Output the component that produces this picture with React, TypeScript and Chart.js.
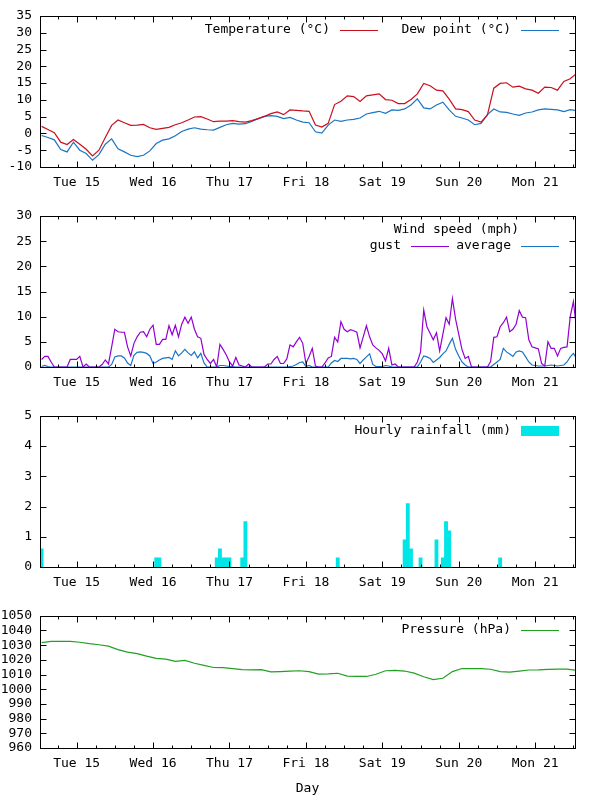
import React, { useEffect, useRef } from 'react';
import { Chart, registerables } from 'chart.js';

Chart.register(...registerables);

// ---------- data ----------
// time axis: hours since Tue 15 00:00
const X_MIN = -11.5;
const X_MAX = 156.5;
const dayTickHours = [0, 24, 48, 72, 96, 120, 144];
const dayLabels = ['Tue 15', 'Wed 16', 'Thu 17', 'Fri 18', 'Sat 19', 'Sun 20', 'Mon 21'];

// temperature / dew point: every 2 h starting at hour -11
const TEMP_START = -11;
const TEMP_STEP = 2;
const temperature = [
  2.1, 1.2, 0.2, -2.6, -3.3, -1.8, -3.2, -4.7, -6.7, -5.0, -1.2, 2.4,
  4.0, 3.2, 2.4, 2.5, 2.7, 1.7, 1.2, 1.5, 1.8, 2.6, 3.2, 4.0,
  4.9, 5.0, 4.3, 3.5, 3.7, 3.7, 3.8, 3.5, 3.4, 3.8, 4.4, 5.1,
  5.9, 6.4, 5.6, 7.0, 6.9, 6.7, 6.6, 2.5, 1.9, 3.0, 8.6, 9.6,
  11.2, 11.0, 9.5, 11.2, 11.5, 11.8, 10.1, 9.9, 8.9, 8.9, 10.1, 11.8,
  14.9, 14.2, 12.9, 12.7, 10.2, 7.3, 7.1, 6.5, 4.0, 3.4, 5.5, 13.5,
  14.9, 15.1, 13.8, 14.1, 13.3, 12.9, 12.0, 13.8, 13.7, 12.9, 15.5, 16.3,
  17.9,
];
const dewPoint = [
  -0.6, -1.2, -1.9, -4.8, -5.5, -2.6, -5.0, -6.0, -8.0, -6.3, -3.2, -1.6,
  -4.6, -5.5, -6.5, -6.9, -6.5, -5.2, -3.0, -2.0, -1.6, -0.7, 0.6, 1.3,
  1.7, 1.3, 1.1, 1.0, 1.8, 2.6, 3.0, 2.8, 2.9, 3.6, 4.4, 5.1,
  5.3, 5.1, 4.4, 4.8, 4.0, 3.4, 3.2, 0.5, 0.1, 2.5, 4.0, 3.6,
  4.0, 4.2, 4.6, 5.8, 6.2, 6.6, 6.0, 7.0, 6.9, 7.3, 8.5, 10.3,
  7.6, 7.3, 8.5, 9.3, 7.0, 5.1, 4.6, 4.0, 2.6, 3.0, 5.6, 7.3,
  6.4, 6.3, 5.8, 5.4, 6.1, 6.4, 7.0, 7.3, 7.2, 7.0, 6.5, 7.1,
  6.8,
];

// wind: hourly starting at hour -11
const WIND_START = -11;
const WIND_STEP = 1;
const windGust = [
  1.5, 2.1, 2.1, 1.0, 0, 0, 0, 0, 0, 1.5, 1.5, 1.5,
  2.1, 0, 0.6, 0, 0, 0, 0, 0.5, 1.4, 0.6, 4.0, 7.5,
  7.0, 6.9, 6.9, 4.0, 2.2, 4.7, 6.0, 6.9, 7.0, 6.0, 7.5, 8.3,
  4.5, 4.5, 5.5, 5.5, 8.2, 6.4, 8.3, 6.0, 8.5, 9.9, 8.7, 9.9,
  7.5, 6.0, 5.7, 2.5, 1.5, 0.7, 1.5, 0, 4.5, 3.5, 2.4, 1.0,
  0.2, 1.9, 0.4, 0.2, 0, 0.6, 0, 0, 0, 0, 0, 0.6,
  0.6, 1.5, 2.1, 0.7, 0.7, 1.6, 4.4, 4.0, 5.0, 5.9, 4.7, 0.7,
  2.1, 3.7, 0.2, 0, 0, 0.8, 1.8, 2.1, 5.9, 5.0, 9.0, 7.5,
  7.0, 7.4, 7.2, 6.9, 3.8, 6.0, 8.2, 6.0, 4.4, 3.8, 3.3, 2.6,
  1.2, 3.7, 0.4, 0.6, 0, 0, 0, 0, 0, 0, 1.0, 3.0,
  11.3, 8.0, 6.7, 5.4, 6.8, 3.2, 6.5, 9.8, 8.5, 13.6, 9.5, 6.5,
  3.5, 1.7, 2.1, 0, 0, 0, 0, 0, 0, 1.1, 5.9, 6.0,
  8.0, 8.8, 9.9, 7.0, 7.5, 8.5, 11.2, 9.9, 9.8, 5.4, 4.0, 3.8,
  3.6, 0.7, 0.2, 5.0, 3.7, 3.7, 2.2, 3.7, 3.9, 4.0, 10.0, 13.0,
  7.4,
];
const windAverage = [
  0.1, 0.3, 0.1, 0, 0, 0, 0, 0, 0, 0, 0, 0,
  0, 0, 0, 0, 0, 0, 0, 0, 0, 0, 0.5, 2.0,
  2.2, 2.2, 1.8, 0.8, 0.3, 2.3, 2.9, 3.0, 2.9, 2.7, 2.2, 0.7,
  1.0, 1.4, 1.7, 1.8, 1.9, 1.5, 3.2, 2.2, 2.8, 3.5, 2.8, 2.3,
  3.0, 1.8, 2.7, 0.8, 0, 0, 0, 0, 0.3, 0.3, 0.2, 0.1,
  0.1, 0, 0, 0, 0, 0, 0, 0, 0, 0, 0, 0,
  0, 0, 0, 0, 0, 0, 0.1, 0.2, 0.5, 0.9, 1.0, 0.1,
  0.3, 0, 0, 0, 0, 0, 0, 0.8, 1.3, 1.1, 1.7, 1.7,
  1.7, 1.6, 1.7, 1.5, 0.7, 1.4, 2.0, 2.6, 0.5, 0.1, 0.1, 0.1,
  0.3, 0.2, 0, 0, 0, 0, 0, 0, 0, 0, 0, 1.0,
  2.2, 2.0, 1.7, 0.9, 1.4, 1.9, 2.6, 3.2, 4.5, 5.7, 3.5, 2.2,
  1.0, 0.4, 0, 0, 0, 0, 0, 0, 0, 0, 0.5, 1.0,
  1.5, 3.7, 3.0, 2.6, 2.1, 3.0, 3.2, 3.0, 2.0, 1.0, 0.4, 0.3,
  0.2, 0.2, 0.2, 0.3, 0.4, 0.3, 0.2, 0.3, 0.4, 1.0, 2.0, 2.7,
  1.7,
];

// hourly rainfall (only non-zero hours)
const rainHours = [-11, 25, 26, 44, 45, 46, 47, 48, 52, 53, 82, 103, 104, 105, 108, 113, 115, 116, 117, 133];
const rainValues = [0.6, 0.3, 0.3, 0.3, 0.6, 0.3, 0.3, 0.3, 0.3, 1.5, 0.3, 0.9, 2.1, 0.6, 0.3, 0.9, 0.3, 1.5, 1.2, 0.3];

// pressure: every 3 h starting at hour -11
const PRES_START = -11;
const PRES_STEP = 3;
const pressure = [
  1031.8, 1032.6, 1032.6, 1032.6, 1032.0, 1031.0, 1030.3, 1029.3, 1027.0, 1025.3, 1024.3, 1022.5,
  1021.0, 1020.5, 1019.0, 1019.7, 1017.7, 1016.2, 1014.8, 1014.7, 1014.1, 1013.3, 1013.2, 1013.3,
  1011.8, 1012.0, 1012.3, 1012.6, 1012.0, 1010.3, 1010.5, 1010.9, 1008.9, 1008.7, 1008.7, 1010.2,
  1012.6, 1012.8, 1012.4, 1011.0, 1008.5, 1006.6, 1007.5, 1012.0, 1014.1, 1014.1, 1014.1, 1013.6,
  1012.0, 1011.6, 1012.3, 1013.1, 1013.2, 1013.5, 1013.7, 1013.7, 1012.8,
];

// ---------- styles ----------
const FONT = "'DejaVu Sans Mono', monospace";
const FONT_SIZE = 13;
const RED = '#c8101e';
const BLUE = '#1a74c4';
const PURPLE = '#9400d3';
const CYAN = '#00e5e5';
const GREEN = '#22a022';

Chart.defaults.font.family = FONT;
Chart.defaults.font.size = FONT_SIZE;
Chart.defaults.color = '#000';

const toPoints = (start: number, step: number, values: number[]) =>
  values.map((v, i) => ({ x: start + i * step, y: v }));

type KeyItem = { label: string; color: string; kind: 'line' | 'box' };
type KeySpec = { title?: string; items: KeyItem[]; colWidth: number; rowOffset: number; titleOffset?: number };

const gnuPlugin = {
  id: 'gnuFrame',
  afterDatasetsDraw(chart: any, _args: any, opts: any) {
    const { ctx, chartArea: a, scales } = chart;
    const xs = scales.x;
    const ys = scales.y;
    const L = Math.round(a.left) + 0.5;
    const R = Math.round(a.right) + 0.5;
    const T = Math.round(a.top) + 0.5;
    const B = Math.round(a.bottom) + 0.5;
    ctx.save();
    ctx.strokeStyle = '#000';
    ctx.lineWidth = 1;
    ctx.beginPath();
    // x ticks every 6 hours, major at day boundaries, mirrored on top
    for (let h = Math.ceil(X_MIN / 6) * 6; h <= X_MAX; h += 6) {
      const px = Math.round(xs.getPixelForValue(h)) + 0.5;
      const len = h % 24 === 0 ? 6 : 3;
      ctx.moveTo(px, B);
      ctx.lineTo(px, B - len);
      ctx.moveTo(px, T);
      ctx.lineTo(px, T + len);
    }
    // y ticks mirrored
    ys.ticks.forEach((t: any) => {
      const py = Math.round(ys.getPixelForValue(t.value)) + 0.5;
      ctx.moveTo(L, py);
      ctx.lineTo(L + 6, py);
      ctx.moveTo(R, py);
      ctx.lineTo(R - 6, py);
    });
    ctx.stroke();
    ctx.strokeRect(L, T, R - L, B - T);

    // key
    const key: KeySpec | undefined = opts && opts.key;
    if (key) {
      ctx.font = `${FONT_SIZE}px ${FONT}`;
      ctx.fillStyle = '#000';
      ctx.textAlign = 'right';
      ctx.textBaseline = 'middle';
      const right = a.right;
      if (key.title) {
        ctx.fillText(key.title, right - 56, a.top + (key.titleOffset || 14));
      }
      const y = a.top + key.rowOffset;
      const n = key.items.length;
      key.items.forEach((it, i) => {
        const shift = (n - 1 - i) * key.colWidth;
        const lineEnd = right - 16 - shift;
        const lineStart = lineEnd - 38;
        ctx.fillStyle = '#000';
        ctx.fillText(it.label, lineStart - 10, y);
        if (it.kind === 'line') {
          ctx.strokeStyle = it.color;
          ctx.beginPath();
          ctx.moveTo(lineStart, Math.round(y) + 0.5);
          ctx.lineTo(lineEnd, Math.round(y) + 0.5);
          ctx.stroke();
        } else {
          ctx.fillStyle = it.color;
          ctx.fillRect(lineStart, Math.round(y) - 5, lineEnd - lineStart, 10);
        }
      });
    }
    ctx.restore();
  },
};

const xScale = (bottomHeight: number, title?: string) => ({
  type: 'linear',
  min: X_MIN,
  max: X_MAX,
  offset: false,
  afterBuildTicks: (s: any) => {
    s.ticks = dayTickHours.map((v) => ({ value: v }));
  },
  afterFit: (s: any) => {
    s.height = bottomHeight;
  },
  grid: { display: false, drawTicks: false },
  border: { display: false },
  ticks: {
    autoSkip: false,
    maxRotation: 0,
    minRotation: 0,
    padding: 8,
    color: '#000',
    callback: (_v: any, i: number) => dayLabels[i] ?? '',
  },
  title: title
    ? { display: true, text: title, color: '#000', padding: { top: 0, bottom: 4 } }
    : { display: false },
});

const yScale = (min: number, max: number, step: number) => ({
  type: 'linear',
  min,
  max,
  afterFit: (s: any) => {
    s.width = 40;
  },
  grid: { display: false, drawTicks: false },
  border: { display: false },
  ticks: {
    stepSize: step,
    padding: 8,
    color: '#000',
    autoSkip: false,
    callback: (v: any) => String(v),
  },
});

const lineDs = (label: string, data: any[], color: string) => ({
  label,
  data,
  borderColor: color,
  backgroundColor: color,
  borderWidth: 1.2,
  pointRadius: 0,
  tension: 0,
  fill: false,
});

const baseOptions = (topPad: number, key: KeySpec, xs: any, ys: any) => ({
  responsive: false,
  animation: false,
  events: [],
  layout: { padding: { left: 0, right: 25, top: topPad, bottom: 0 } },
  plugins: {
    legend: { display: false },
    tooltip: { enabled: false },
    gnuFrame: { key },
  },
  scales: { x: xs, y: ys },
});

const buildTemp = () => ({
  type: 'line',
  data: {
    datasets: [
      lineDs('Temperature (°C)', toPoints(TEMP_START, TEMP_STEP, temperature), RED),
      lineDs('Dew point (°C)', toPoints(TEMP_START, TEMP_STEP, dewPoint), BLUE),
    ],
  },
  options: baseOptions(
    16,
    {
      items: [
        { label: 'Temperature (°C)', color: RED, kind: 'line' },
        { label: 'Dew point (°C)', color: BLUE, kind: 'line' },
      ],
      colWidth: 181,
      rowOffset: 14,
    },
    xScale(33),
    yScale(-10, 35, 5)
  ),
  plugins: [gnuPlugin],
});

const buildWind = () => ({
  type: 'line',
  data: {
    datasets: [
      lineDs('gust', toPoints(WIND_START, WIND_STEP, windGust), PURPLE),
      lineDs('average', toPoints(WIND_START, WIND_STEP, windAverage), BLUE),
    ],
  },
  options: baseOptions(
    16,
    {
      title: 'Wind speed (mph)',
      titleOffset: 14,
      items: [
        { label: 'gust', color: PURPLE, kind: 'line' },
        { label: 'average', color: BLUE, kind: 'line' },
      ],
      colWidth: 110,
      rowOffset: 30,
    },
    xScale(33),
    yScale(0, 30, 5)
  ),
  plugins: [gnuPlugin],
});

const buildRain = () => ({
  type: 'bar',
  data: {
    datasets: [
      {
        label: 'Hourly rainfall (mm)',
        data: rainHours.map((h, i) => ({ x: h, y: rainValues[i] })),
        backgroundColor: CYAN,
        borderWidth: 0,
        barPercentage: 1,
        categoryPercentage: 1,
      },
    ],
  },
  options: baseOptions(
    15,
    {
      items: [{ label: 'Hourly rainfall (mm)', color: CYAN, kind: 'box' }],
      colWidth: 0,
      rowOffset: 15,
    },
    xScale(33),
    yScale(0, 5, 1)
  ),
  plugins: [gnuPlugin],
});

const buildPressure = () => ({
  type: 'line',
  data: {
    datasets: [lineDs('Pressure (hPa)', toPoints(PRES_START, PRES_STEP, pressure), GREEN)],
  },
  options: baseOptions(
    15,
    {
      items: [{ label: 'Pressure (hPa)', color: GREEN, kind: 'line' }],
      colWidth: 0,
      rowOffset: 14,
    },
    xScale(52, 'Day'),
    yScale(960, 1050, 10)
  ),
  plugins: [gnuPlugin],
});

function Panel({ top, height, build }: { top: number; height: number; build: () => any }) {
  const ref = useRef<HTMLCanvasElement>(null);
  useEffect(() => {
    const chart = new Chart(ref.current as HTMLCanvasElement, build());
    return () => chart.destroy();
  }, [build]);
  return (
    <canvas
      ref={ref}
      width={600}
      height={height}
      style={{ position: 'absolute', left: 0, top, width: 600, height, display: 'block' }}
    />
  );
}

export default function App() {
  return (
    <div style={{ position: 'absolute', left: 0, top: 0, width: 600, height: 800, background: '#fff' }}>
      <Panel top={0} height={200} build={buildTemp} />
      <Panel top={200} height={200} build={buildWind} />
      <Panel top={400} height={200} build={buildRain} />
      <Panel top={600} height={200} build={buildPressure} />
    </div>
  );
}
